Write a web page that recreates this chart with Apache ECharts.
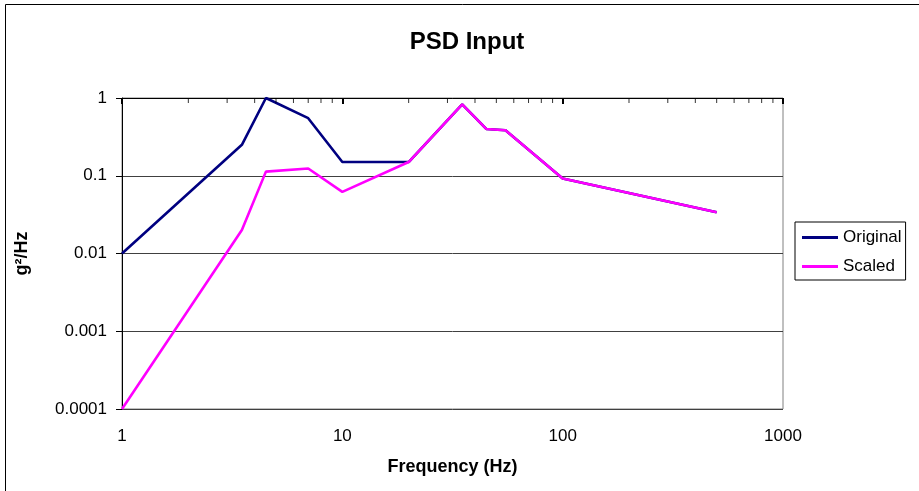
<!DOCTYPE html>
<html>
<head>
<meta charset="utf-8">
<title>PSD Input</title>
<script src="https://cdn.jsdelivr.net/npm/echarts@6/dist/echarts.min.js"></script>
<style>
  html, body {
    margin: 0;
    padding: 0;
    background: #ffffff;
  }

  #chart {
    width: 919px;
    height: 491px;
  }
</style>
</head>
<body>
<div id="chart"></div>
<script>
// PSD 输入曲线（双对数坐标）
const frequency = [1, 3.5, 4.5, 7, 10, 20, 35, 45, 55, 100, 500]
const originalPsd = [0.01, 0.25, 1, 0.55, 0.15, 0.15, 0.83, 0.4, 0.385, 0.092, 0.034]
const scaledPsd = [0.0001, 0.02, 0.113, 0.124, 0.062, 0.15, 0.83, 0.4, 0.385, 0.092, 0.034]

const xTickLabels = ['1', '10', '100', '1000']
const yTickLabels = ['0.0001', '0.001', '0.01', '0.1', '1']

// 顶部轴上的次刻度（每个十倍程的 2..9）
const minorTickValues = []
;[1, 10, 100].forEach((decade) => {
  for (let k = 2; k <= 9; k++) {
    minorTickValues.push(decade * k)
  }
})

const toPairs = (xs, ys) => xs.map((x, i) => [x, ys[i]])

const labelFont = {
  color: '#000000',
  fontFamily: 'Liberation Sans, Arial, sans-serif',
  fontSize: 17,
}

const axisNameFont = {
  color: '#000000',
  fontFamily: 'Liberation Sans, Arial, sans-serif',
  fontSize: 18,
  fontWeight: 'bold',
}

const chart = echarts.init(document.getElementById('chart'))

chart.setOption({
  animation: false,
  title: {
    text: 'PSD Input',
    left: 462,
    top: 25,
    textAlign: 'center',
    textStyle: {
      color: '#000000',
      fontFamily: 'Liberation Sans, Arial, sans-serif',
      fontSize: 24,
      fontWeight: 'bold',
    },
  },
  graphic: [
    {
      type: 'polyline',
      shape: {
        points: [[5.5, 491], [5.5, 4.5], [919, 4.5]],
      },
      style: {
        stroke: '#000000',
        lineWidth: 1,
        fill: null,
      },
      silent: true,
    },
  ],
  legend: {
    orient: 'vertical',
    left: 795,
    top: 222,
    itemWidth: 36,
    itemHeight: 3,
    itemGap: 12,
    padding: [7, 4, 5, 7],
    borderColor: '#000000',
    borderWidth: 1,
    backgroundColor: '#ffffff',
    icon: 'rect',
    textStyle: labelFont,
    data: ['Original', 'Scaled'],
  },
  grid: {
    left: 122,
    top: 98,
    right: 136,
    bottom: 82,
    show: true,
    borderColor: '#808080',
    borderWidth: 1,
  },
  xAxis: [
    {
      type: 'log',
      logBase: 10,
      min: 1,
      max: 1000,
      position: 'bottom',
      name: 'Frequency (Hz)',
      nameLocation: 'middle',
      nameGap: 49,
      nameTextStyle: axisNameFont,
      axisLine: { show: false },
      axisTick: { show: false },
      splitLine: { show: false },
      axisLabel: {
        ...labelFont,
        margin: 19,
        formatter: (v) => xTickLabels[Math.round(Math.log10(v))],
      },
    },
    {
      type: 'log',
      logBase: 10,
      min: 1,
      max: 1000,
      position: 'top',
      axisLine: {
        show: true,
        lineStyle: { color: '#000000', width: 1 },
      },
      axisTick: {
        show: true,
        inside: true,
        length: 6,
        lineStyle: { color: '#000000', width: 2 },
      },
      axisLabel: { show: false },
      splitLine: { show: false },
    },
  ],
  yAxis: {
    type: 'log',
    logBase: 10,
    min: 0.0001,
    max: 1,
    name: 'g²/Hz',
    nameLocation: 'middle',
    nameGap: 91,
    nameTextStyle: axisNameFont,
    axisLine: {
      show: true,
      lineStyle: { color: '#000000', width: 1 },
    },
    axisTick: {
      show: true,
      length: 6,
      lineStyle: { color: '#000000' },
    },
    axisLabel: {
      ...labelFont,
      margin: 15,
      formatter: (v) => yTickLabels[Math.round(Math.log10(v)) + 4],
    },
    splitLine: {
      show: true,
      lineStyle: { color: '#404040', width: 1 },
    },
  },
  series: [
    {
      name: 'minor ticks',
      type: 'scatter',
      silent: true,
      clip: false,
      symbol: 'rect',
      symbolSize: [1, 5],
      symbolOffset: [0, 2.5],
      itemStyle: { color: '#000000' },
      data: minorTickValues.map((v) => [v, 1]),
      z: 5,
    },
    {
      name: 'Original',
      type: 'line',
      showSymbol: false,
      symbol: 'none',
      lineStyle: { color: '#000080', width: 2.6 },
      itemStyle: { color: '#000080' },
      data: toPairs(frequency, originalPsd),
      z: 3,
    },
    {
      name: 'Scaled',
      type: 'line',
      showSymbol: false,
      symbol: 'none',
      lineStyle: { color: '#ff00ff', width: 2.6 },
      itemStyle: { color: '#ff00ff' },
      data: toPairs(frequency, scaledPsd),
      z: 4,
    },
  ],
})

window.addEventListener('resize', () => {
  chart.resize()
})
</script>
</body>
</html>
